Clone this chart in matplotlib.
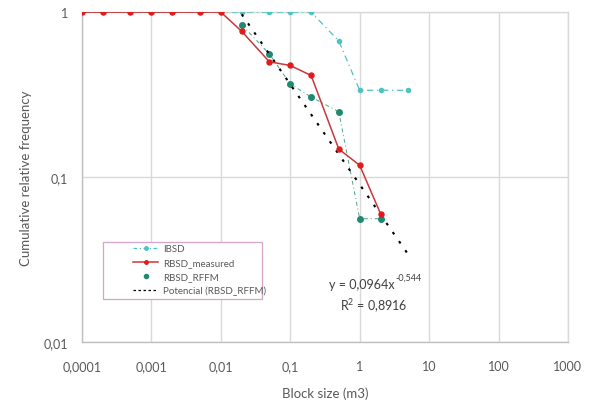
import matplotlib
matplotlib.use("Agg")
import matplotlib.pyplot as plt
from matplotlib.lines import Line2D
from matplotlib.patches import Rectangle
from matplotlib.ticker import FixedLocator, FixedFormatter, NullLocator

plt.rcParams["font.family"] = ["Lato", "DejaVu Sans"]

# --- datos ---
x_medido = [0.0001, 0.0002, 0.0005, 0.001, 0.002, 0.005, 0.01,
            0.02, 0.05, 0.1, 0.2, 0.5, 1, 2]
y_medido = [1, 1, 1, 1, 1, 1, 1,
            0.765, 0.50, 0.475, 0.413, 0.148, 0.118, 0.060]

x_ibsd = [0.0001, 0.0002, 0.0005, 0.001, 0.002, 0.005, 0.01,
          0.02, 0.05, 0.1, 0.2, 0.5, 1, 2, 5]
y_ibsd = [1, 1, 1, 1, 1, 1, 1,
          1, 1, 1, 1, 0.669, 0.336, 0.336, 0.336]

x_rffm = [0.02, 0.05, 0.1, 0.2, 0.5, 1, 2]
y_rffm = [0.838, 0.558, 0.367, 0.306, 0.249, 0.056, 0.056]

# extremos de la línea de tendencia potencial
x_tend = [0.02, 5]
y_tend = [0.97, 0.034]

x_ticks = [0.0001, 0.001, 0.01, 0.1, 1, 10, 100, 1000]
x_etiq = ["0,0001", "0,001", "0,01", "0,1", "1", "10", "100", "1000"]
y_ticks = [0.01, 0.1, 1]
y_etiq = ["0,01", "0,1", "1"]

ROJO = "#e31a1c"
ROJO_LINEA = "#c8383a"
CIAN = "#4cc4c4"
TEAL = "#1f8a72"
GRIS = "#d9d9d9"
TEXTO = "#595959"

fig = plt.figure(figsize=(5.91, 4.10), dpi=100)
ax = fig.add_axes([0.1387, 0.163, 0.8223, 0.805])

ax.plot(x_ibsd, y_ibsd, color=CIAN, linestyle=(0, (5, 3, 1, 3)), lw=0.9,
        marker="o", markersize=3.0, zorder=3)
ax.plot(x_rffm, y_rffm, color=TEAL, linestyle=(0, (4, 3, 1, 3)), lw=0.7,
        alpha=0.8, zorder=3)
ax.plot(x_rffm, y_rffm, color=TEAL, linestyle="none", marker="o",
        markersize=4, zorder=4)
ax.plot(x_tend, y_tend, color="black", linestyle=(0, (1.3, 4)), lw=1.5,
        zorder=5)
ax.plot(x_medido, y_medido, color=ROJO_LINEA, lw=1.1, marker="o",
        markersize=3.6, markerfacecolor=ROJO, markeredgecolor=ROJO, zorder=6)

ax.set_xscale("log")
ax.set_yscale("log")
ax.set_xlim(0.0001, 1000)
ax.set_ylim(0.01, 1)

ax.xaxis.set_major_locator(FixedLocator(x_ticks))
ax.xaxis.set_major_formatter(FixedFormatter(x_etiq))
ax.xaxis.set_minor_locator(NullLocator())
ax.yaxis.set_major_locator(FixedLocator(y_ticks))
ax.yaxis.set_major_formatter(FixedFormatter(y_etiq))
ax.yaxis.set_minor_locator(NullLocator())

ax.grid(True, color=GRIS, lw=1.0)
ax.set_axisbelow(True)
for s in ax.spines.values():
    s.set_color(GRIS)
    s.set_linewidth(1.0)
ax.spines["left"].set_color("#bfbfbf")
ax.spines["bottom"].set_color("#bfbfbf")
ax.tick_params(length=0, labelsize=9, colors=TEXTO, pad=10)
ax.tick_params(axis="x", pad=13)

ax.set_xlabel("Block size (m3)", fontsize=9.5, color=TEXTO, labelpad=10)
ax.set_ylabel("Cumulative relative frequency", fontsize=9.5, color=TEXTO,
              labelpad=8)

# ecuación de la tendencia
ax.text(0.575, 0.176, "y = 0,0964x", transform=ax.transAxes,
        ha="center", va="center", fontsize=9, color="#404040")
ax.annotate("-0,544", xy=(0.645, 0.176), xycoords="axes fraction",
            xytext=(0, 5), textcoords="offset points",
            ha="left", va="center", fontsize=6.5, color="#404040")
ax.text(0.60, 0.112, r"R$^{\mathregular{2}}$ = 0,8916", transform=ax.transAxes,
        ha="center", va="center", fontsize=9, color="#404040")

# leyenda con marco propio
ax.add_patch(Rectangle((0.0432, 0.130), 0.327, 0.173, transform=ax.transAxes,
                       facecolor="white", edgecolor="#d4a5c8", lw=0.9,
                       zorder=7))
handles = [
    Line2D([0], [0], color=CIAN, linestyle=(0, (3, 2, 1, 2)), lw=0.9,
           marker="o", markersize=2.5),
    Line2D([0], [0], color=ROJO_LINEA, lw=1.1, marker="o", markersize=2.5,
           markerfacecolor=ROJO, markeredgecolor=ROJO),
    Line2D([0], [0], color=TEAL, linestyle="none", marker="o", markersize=3),
    Line2D([0], [0], color="black", linestyle=(0, (2, 2)), lw=0.9),
]
etiquetas = ["IBSD", "RBSD_measured", "RBSD_RFFM", "Potencial (RBSD_RFFM)"]
leg = ax.legend(handles, etiquetas, loc="upper left",
                bbox_to_anchor=(0.105, 0.296), fontsize=7, frameon=False,
                handlelength=2.6, borderpad=0, labelspacing=0.5,
                handletextpad=0.5, borderaxespad=0)
leg.set_zorder(8)
for t in leg.get_texts():
    t.set_color(TEXTO)

fig.savefig("out.png", dpi=100)
